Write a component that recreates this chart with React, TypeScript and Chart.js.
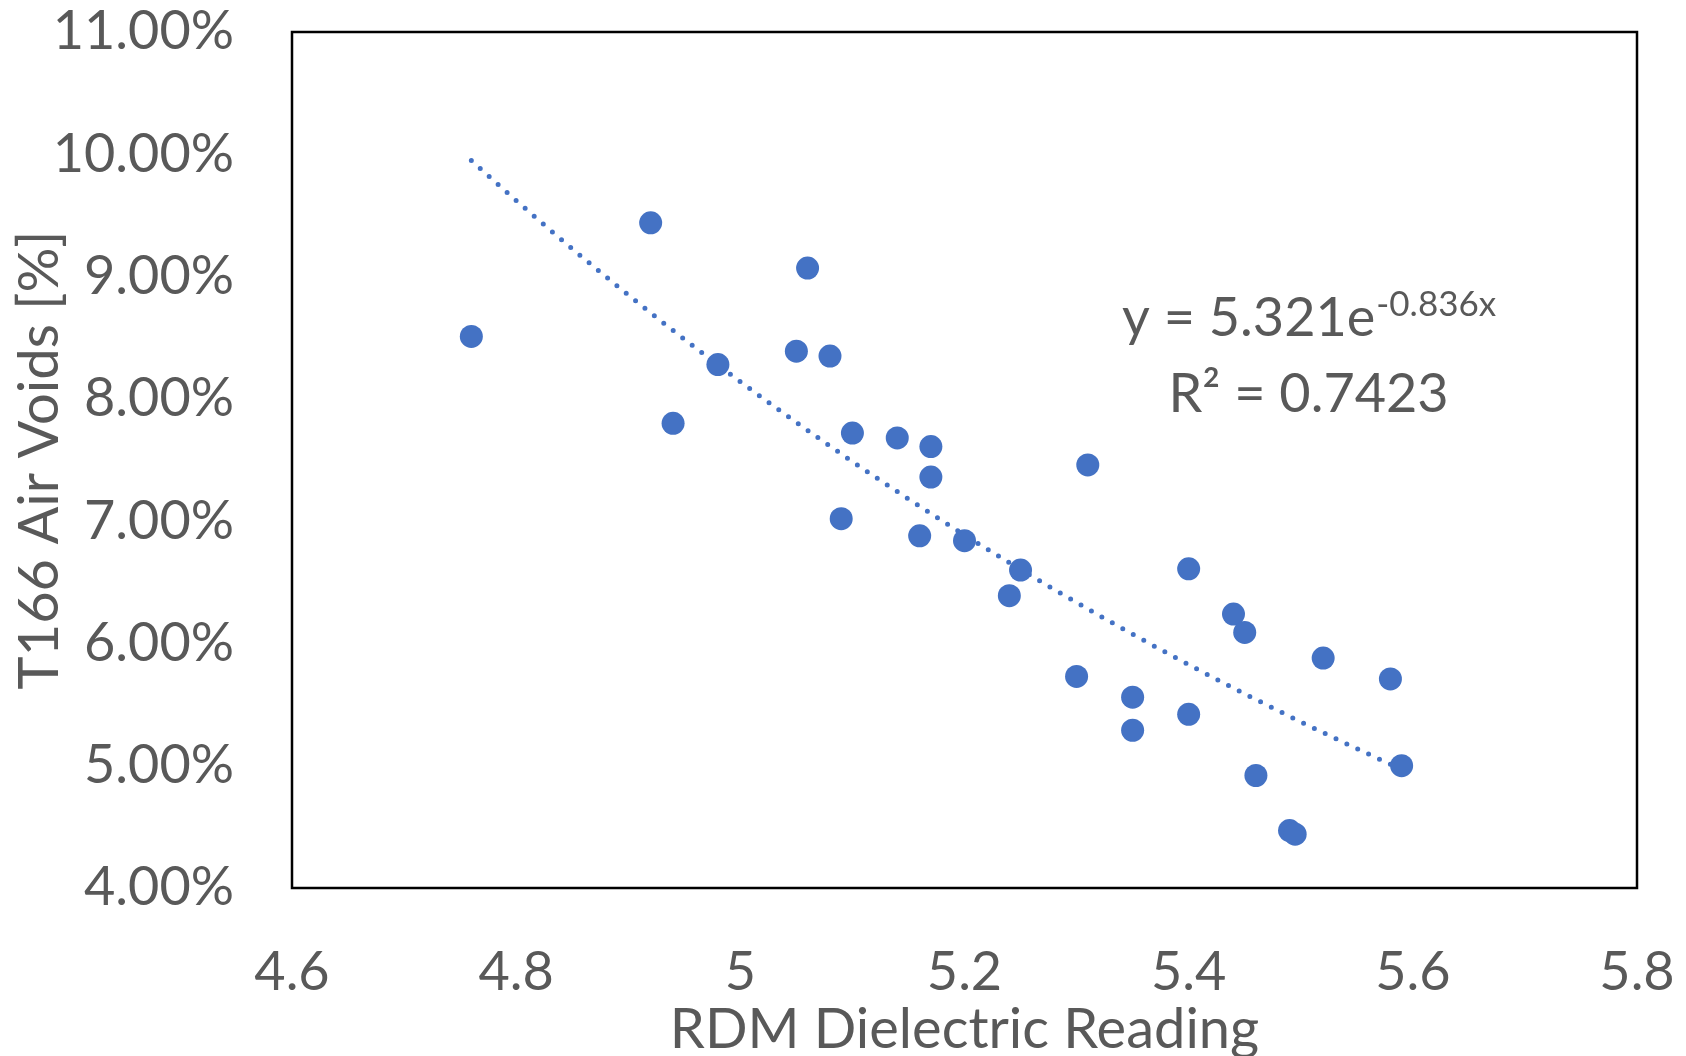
import React, { useEffect, useRef } from "react";
import { Chart, registerables } from "chart.js";

Chart.register(...registerables);

// RDM dielectric readings (x) and T166 air voids (y, fraction)
const rdmReadings = [
  4.76, 4.92, 4.94, 4.98, 5.06, 5.05, 5.08, 5.10, 5.14, 5.17,
  5.17, 5.09, 5.16, 5.20, 5.25, 5.24, 5.31, 5.40, 5.44, 5.45,
  5.52, 5.58, 5.30, 5.35, 5.40, 5.35, 5.59, 5.46, 5.49, 5.495,
];
const airVoids = [
  0.0851, 0.0944, 0.0780, 0.0828, 0.0907, 0.0839, 0.0835, 0.0772, 0.0768, 0.0761,
  0.0736, 0.0702, 0.0688, 0.0684, 0.0660, 0.0639, 0.0746, 0.0661, 0.0624, 0.0609,
  0.0588, 0.0571, 0.0573, 0.0556, 0.0542, 0.0529, 0.0500, 0.0492, 0.0447, 0.0444,
];

// Exponential trendline shown on the chart: y = 5.321 e^(-0.836 x)
const trendCoef = 5.321;
const trendExp = -0.836;
const trendRange = [4.76, 5.59];
const trendSteps = 60;

const xTicks = { min: 4.6, max: 5.8, step: 0.2 };
const yTicks = { min: 0.04, max: 0.11, step: 0.01 };

const equationMain = "y = 5.321e";
const equationSup = "-0.836x";
const rSquaredText = "R² = 0.7423";
const annotationAnchor = { x: 5.507, y1: 0.0851, y2: 0.0789 };

const xTitle = "RDM Dielectric Reading";
const yTitle = "T166 Air Voids [%]";

const FONT = "Lato";
const TEXT_COLOR = "#595959";
const POINT_COLOR = "#4472C4";

export default function App() {
  const canvasRef = useRef<HTMLCanvasElement | null>(null);

  useEffect(() => {
    const canvas = canvasRef.current;
    if (!canvas) return;

    const points = rdmReadings.map((x, i) => ({ x, y: airVoids[i] }));
    const trend: { x: number; y: number }[] = [];
    for (let i = 0; i <= trendSteps; i++) {
      const x = trendRange[0] + ((trendRange[1] - trendRange[0]) * i) / trendSteps;
      trend.push({ x, y: trendCoef * Math.exp(trendExp * x) });
    }

    const framePlugin = {
      id: "frame",
      afterDatasetsDraw(chart: any) {
        const { ctx, chartArea } = chart;
        ctx.save();
        ctx.strokeStyle = "#000000";
        ctx.lineWidth = 2.5;
        ctx.strokeRect(
          chartArea.left,
          chartArea.top,
          chartArea.right - chartArea.left,
          chartArea.bottom - chartArea.top
        );
        ctx.restore();
      },
    };

    const annotationPlugin = {
      id: "equation",
      afterDraw(chart: any) {
        const { ctx, scales } = chart;
        const cx = scales.x.getPixelForValue(annotationAnchor.x);
        const y1 = scales.y.getPixelForValue(annotationAnchor.y1);
        const y2 = scales.y.getPixelForValue(annotationAnchor.y2);
        ctx.save();
        ctx.fillStyle = TEXT_COLOR;
        ctx.textBaseline = "alphabetic";
        const mainFont = `54px ${FONT}`;
        const supFont = `35px ${FONT}`;
        ctx.font = mainFont;
        const wMain = ctx.measureText(equationMain).width;
        ctx.font = supFont;
        const wSup = ctx.measureText(equationSup).width;
        const startX = cx - (wMain + wSup) / 2;
        ctx.textAlign = "left";
        ctx.font = mainFont;
        ctx.fillText(equationMain, startX, y1);
        ctx.font = supFont;
        ctx.fillText(equationSup, startX + wMain + 1, y1 - 20);
        ctx.font = mainFont;
        ctx.textAlign = "center";
        ctx.fillText(rSquaredText, cx, y2);
        ctx.restore();
      },
    };

    const chart = new Chart(canvas, {
      type: "scatter",
      data: {
        datasets: [
          {
            label: "Air Voids",
            data: points,
            backgroundColor: POINT_COLOR,
            borderColor: POINT_COLOR,
            borderWidth: 0,
            pointRadius: 11.5,
            pointHoverRadius: 11.5,
            showLine: false,
          },
          {
            label: "Trend",
            data: trend,
            showLine: true,
            borderColor: POINT_COLOR,
            borderWidth: 5,
            borderDash: [0, 12],
            borderCapStyle: "round",
            pointRadius: 0,
            fill: false,
            tension: 0,
          },
        ],
      },
      options: {
        responsive: false,
        animation: false,
        devicePixelRatio: 1,
        layout: { padding: { top: 32, right: 49, left: 0, bottom: 0 } },
        plugins: {
          legend: { display: false },
          tooltip: { enabled: false },
        },
        scales: {
          x: {
            type: "linear",
            min: xTicks.min,
            max: xTicks.max,
            grid: { display: false, drawTicks: false },
            border: { display: false },
            ticks: {
              stepSize: xTicks.step,
              padding: 52,
              color: TEXT_COLOR,
              font: { family: FONT, size: 54 },
              callback: (v: any) => String(Number(Number(v).toFixed(1))),
            },
            title: {
              display: true,
              text: xTitle,
              color: TEXT_COLOR,
              font: { family: FONT, size: 56, lineHeight: 0.9 },
              padding: { top: 0, bottom: 1 },
            },
            afterFit: (scale: any) => {
              scale.height = 168;
              scale.paddingLeft = 0;
              scale.paddingRight = 0;
              scale.paddingTop = 0;
              scale.paddingBottom = 0;
            },
          },
          y: {
            type: "linear",
            min: yTicks.min,
            max: yTicks.max,
            grid: { display: false, drawTicks: false },
            border: { display: false },
            ticks: {
              stepSize: yTicks.step,
              padding: 58,
              color: TEXT_COLOR,
              font: { family: FONT, size: 54 },
              callback: (v: any) => (Number(v) * 100).toFixed(2) + "%",
            },
            title: {
              display: true,
              text: yTitle,
              color: TEXT_COLOR,
              font: { family: FONT, size: 56, lineHeight: 1 },
              padding: { top: 12, bottom: 0 },
            },
            afterFit: (scale: any) => {
              scale.width = 292;
              scale.paddingLeft = 0;
              scale.paddingRight = 0;
              scale.paddingTop = 0;
              scale.paddingBottom = 0;
            },
          },
        },
      },
      plugins: [framePlugin, annotationPlugin],
    });

    return () => {
      chart.destroy();
    };
  }, []);

  return (
    <div
      style={{
        position: "fixed",
        left: 0,
        top: 0,
        width: 1686,
        height: 1056,
        background: "#ffffff",
      }}
    >
      <canvas ref={canvasRef} width={1686} height={1056} style={{ width: 1686, height: 1056, display: "block" }} />
    </div>
  );
}
